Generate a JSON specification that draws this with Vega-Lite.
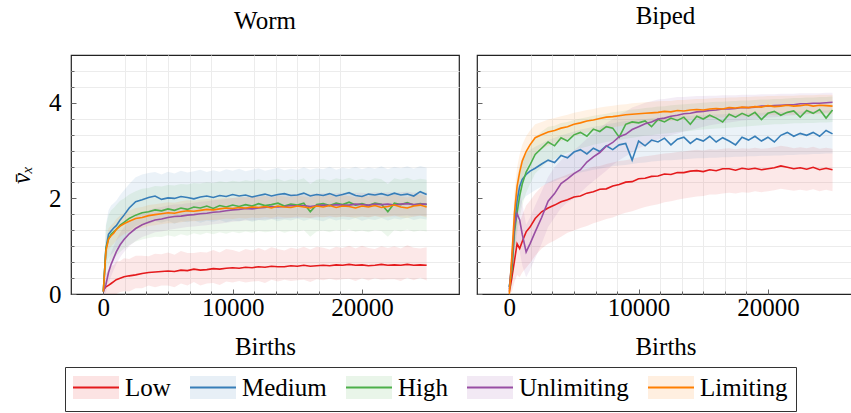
{
"$schema": "https://vega.github.io/schema/vega-lite/v6.json",
"padding": {"left": 8, "top": 3, "right": 0, "bottom": 0},
"spacing": 15,
"config": {
  "font": "Liberation Serif",
  "view": {"stroke": "#222", "strokeWidth": 1.2},
  "axis": {"labelFont": "Liberation Serif", "labelFontSize": 25, "labelColor": "#000", "titleFont": "Liberation Serif", "titleFontSize": 25, "titleFontWeight": "normal", "titleColor": "#000", "domain": false, "tickColor": "#666", "gridWidth": 1, "labelOverlap": false, "labelFlush": false},
  "title": {"font": "Liberation Serif", "fontSize": 25, "fontWeight": "normal", "color": "#000", "anchor": "middle"},
  "legend": {"labelFont": "Liberation Serif", "labelFontSize": 25, "labelColor": "#000"}
},
"datasets": {"d": [
{"p":"W","s":"Low","x":0,"m":0.08,"l":0,"h":0.2},
{"p":"W","s":"Low","x":200,"m":0.15,"l":0,"h":0.42},
{"p":"W","s":"Low","x":400,"m":0.18,"l":0,"h":0.5},
{"p":"W","s":"Low","x":600,"m":0.22,"l":0,"h":0.59},
{"p":"W","s":"Low","x":800,"m":0.26,"l":0,"h":0.6},
{"p":"W","s":"Low","x":1000,"m":0.3,"l":0,"h":0.68},
{"p":"W","s":"Low","x":1300,"m":0.33,"l":0.04,"h":0.69},
{"p":"W","s":"Low","x":1600,"m":0.36,"l":0.06,"h":0.75},
{"p":"W","s":"Low","x":2000,"m":0.38,"l":0.05,"h":0.73},
{"p":"W","s":"Low","x":2500,"m":0.4,"l":0.12,"h":0.8},
{"p":"W","s":"Low","x":3000,"m":0.43,"l":0.12,"h":0.8},
{"p":"W","s":"Low","x":3500,"m":0.45,"l":0.18,"h":0.79},
{"p":"W","s":"Low","x":4000,"m":0.46,"l":0.14,"h":0.84},
{"p":"W","s":"Low","x":4500,"m":0.47,"l":0.18,"h":0.83},
{"p":"W","s":"Low","x":5000,"m":0.48,"l":0.18,"h":0.87},
{"p":"W","s":"Low","x":5500,"m":0.47,"l":0.14,"h":0.82},
{"p":"W","s":"Low","x":6000,"m":0.5,"l":0.22,"h":0.9},
{"p":"W","s":"Low","x":6500,"m":0.49,"l":0.18,"h":0.86},
{"p":"W","s":"Low","x":7000,"m":0.52,"l":0.25,"h":0.86},
{"p":"W","s":"Low","x":7500,"m":0.5,"l":0.18,"h":0.88},
{"p":"W","s":"Low","x":8000,"m":0.51,"l":0.22,"h":0.87},
{"p":"W","s":"Low","x":8500,"m":0.53,"l":0.23,"h":0.92},
{"p":"W","s":"Low","x":9000,"m":0.52,"l":0.19,"h":0.87},
{"p":"W","s":"Low","x":9500,"m":0.54,"l":0.26,"h":0.94},
{"p":"W","s":"Low","x":10000,"m":0.55,"l":0.24,"h":0.92},
{"p":"W","s":"Low","x":10500,"m":0.54,"l":0.27,"h":0.88},
{"p":"W","s":"Low","x":11000,"m":0.56,"l":0.24,"h":0.94},
{"p":"W","s":"Low","x":11500,"m":0.55,"l":0.26,"h":0.91},
{"p":"W","s":"Low","x":12000,"m":0.57,"l":0.27,"h":0.96},
{"p":"W","s":"Low","x":12500,"m":0.56,"l":0.23,"h":0.91},
{"p":"W","s":"Low","x":13000,"m":0.58,"l":0.3,"h":0.98},
{"p":"W","s":"Low","x":13500,"m":0.57,"l":0.26,"h":0.94},
{"p":"W","s":"Low","x":14000,"m":0.57,"l":0.3,"h":0.91},
{"p":"W","s":"Low","x":14500,"m":0.59,"l":0.27,"h":0.97},
{"p":"W","s":"Low","x":15000,"m":0.58,"l":0.29,"h":0.94},
{"p":"W","s":"Low","x":15500,"m":0.6,"l":0.3,"h":0.99},
{"p":"W","s":"Low","x":16000,"m":0.58,"l":0.25,"h":0.93},
{"p":"W","s":"Low","x":16500,"m":0.59,"l":0.31,"h":0.99},
{"p":"W","s":"Low","x":17000,"m":0.6,"l":0.29,"h":0.97},
{"p":"W","s":"Low","x":17500,"m":0.59,"l":0.32,"h":0.93},
{"p":"W","s":"Low","x":18000,"m":0.61,"l":0.29,"h":0.99},
{"p":"W","s":"Low","x":18500,"m":0.6,"l":0.31,"h":0.96},
{"p":"W","s":"Low","x":19000,"m":0.62,"l":0.32,"h":1.01},
{"p":"W","s":"Low","x":19500,"m":0.6,"l":0.27,"h":0.95},
{"p":"W","s":"Low","x":20000,"m":0.61,"l":0.33,"h":1.01},
{"p":"W","s":"Low","x":20500,"m":0.59,"l":0.28,"h":0.96},
{"p":"W","s":"Low","x":21000,"m":0.6,"l":0.33,"h":0.94},
{"p":"W","s":"Low","x":21500,"m":0.62,"l":0.3,"h":1.0},
{"p":"W","s":"Low","x":22000,"m":0.6,"l":0.31,"h":0.96},
{"p":"W","s":"Low","x":22500,"m":0.61,"l":0.31,"h":1.0},
{"p":"W","s":"Low","x":23000,"m":0.6,"l":0.27,"h":0.95},
{"p":"W","s":"Low","x":23500,"m":0.62,"l":0.34,"h":1.02},
{"p":"W","s":"Low","x":24000,"m":0.6,"l":0.29,"h":0.97},
{"p":"W","s":"Low","x":24500,"m":0.61,"l":0.34,"h":0.95},
{"p":"W","s":"Low","x":25000,"m":0.6,"l":0.28,"h":0.98},
{"p":"W","s":"Medium","x":0,"m":0.05,"l":0,"h":0.15},
{"p":"W","s":"Medium","x":200,"m":0.95,"l":0.5,"h":1.45},
{"p":"W","s":"Medium","x":400,"m":1.25,"l":0.75,"h":1.75},
{"p":"W","s":"Medium","x":600,"m":1.32,"l":0.82,"h":1.85},
{"p":"W","s":"Medium","x":800,"m":1.38,"l":0.88,"h":1.9},
{"p":"W","s":"Medium","x":1000,"m":1.43,"l":0.95,"h":1.95},
{"p":"W","s":"Medium","x":1300,"m":1.55,"l":1.05,"h":2.07},
{"p":"W","s":"Medium","x":1600,"m":1.65,"l":1.15,"h":2.17},
{"p":"W","s":"Medium","x":2000,"m":1.8,"l":1.3,"h":2.3},
{"p":"W","s":"Medium","x":2500,"m":1.93,"l":1.42,"h":2.44},
{"p":"W","s":"Medium","x":3000,"m":1.97,"l":1.48,"h":2.5},
{"p":"W","s":"Medium","x":3500,"m":2.02,"l":1.46,"h":2.53},
{"p":"W","s":"Medium","x":4000,"m":2.05,"l":1.52,"h":2.55},
{"p":"W","s":"Medium","x":4500,"m":1.98,"l":1.49,"h":2.5},
{"p":"W","s":"Medium","x":5000,"m":2.01,"l":1.53,"h":2.56},
{"p":"W","s":"Medium","x":5500,"m":2.0,"l":1.47,"h":2.52},
{"p":"W","s":"Medium","x":6000,"m":2.04,"l":1.52,"h":2.58},
{"p":"W","s":"Medium","x":6500,"m":2.02,"l":1.5,"h":2.54},
{"p":"W","s":"Medium","x":7000,"m":1.99,"l":1.54,"h":2.57},
{"p":"W","s":"Medium","x":7500,"m":2.03,"l":1.49,"h":2.6},
{"p":"W","s":"Medium","x":8000,"m":2.05,"l":1.53,"h":2.55},
{"p":"W","s":"Medium","x":8500,"m":2.02,"l":1.51,"h":2.59},
{"p":"W","s":"Medium","x":9000,"m":2.06,"l":1.55,"h":2.56},
{"p":"W","s":"Medium","x":9500,"m":2.04,"l":1.5,"h":2.61},
{"p":"W","s":"Medium","x":10000,"m":2.08,"l":1.54,"h":2.58},
{"p":"W","s":"Medium","x":10500,"m":2.05,"l":1.52,"h":2.62},
{"p":"W","s":"Medium","x":11000,"m":2.07,"l":1.56,"h":2.57},
{"p":"W","s":"Medium","x":11500,"m":2.03,"l":1.51,"h":2.6},
{"p":"W","s":"Medium","x":12000,"m":2.06,"l":1.55,"h":2.63},
{"p":"W","s":"Medium","x":12500,"m":2.09,"l":1.53,"h":2.58},
{"p":"W","s":"Medium","x":13000,"m":2.05,"l":1.57,"h":2.61},
{"p":"W","s":"Medium","x":13500,"m":2.08,"l":1.52,"h":2.64},
{"p":"W","s":"Medium","x":14000,"m":2.1,"l":1.56,"h":2.59},
{"p":"W","s":"Medium","x":14500,"m":2.06,"l":1.54,"h":2.62},
{"p":"W","s":"Medium","x":15000,"m":2.07,"l":1.58,"h":2.6},
{"p":"W","s":"Medium","x":15500,"m":2.11,"l":1.53,"h":2.65},
{"p":"W","s":"Medium","x":16000,"m":2.05,"l":1.57,"h":2.6},
{"p":"W","s":"Medium","x":16500,"m":2.08,"l":1.55,"h":2.63},
{"p":"W","s":"Medium","x":17000,"m":2.06,"l":1.52,"h":2.61},
{"p":"W","s":"Medium","x":17500,"m":2.1,"l":1.58,"h":2.66},
{"p":"W","s":"Medium","x":18000,"m":2.05,"l":1.54,"h":2.6},
{"p":"W","s":"Medium","x":18500,"m":2.08,"l":1.57,"h":2.64},
{"p":"W","s":"Medium","x":19000,"m":2.12,"l":1.55,"h":2.62},
{"p":"W","s":"Medium","x":19500,"m":2.06,"l":1.59,"h":2.66},
{"p":"W","s":"Medium","x":20000,"m":2.04,"l":1.53,"h":2.61},
{"p":"W","s":"Medium","x":20500,"m":2.09,"l":1.57,"h":2.65},
{"p":"W","s":"Medium","x":21000,"m":2.07,"l":1.55,"h":2.62},
{"p":"W","s":"Medium","x":21500,"m":2.1,"l":1.59,"h":2.67},
{"p":"W","s":"Medium","x":22000,"m":2.06,"l":1.54,"h":2.61},
{"p":"W","s":"Medium","x":22500,"m":2.11,"l":1.58,"h":2.66},
{"p":"W","s":"Medium","x":23000,"m":2.07,"l":1.56,"h":2.63},
{"p":"W","s":"Medium","x":23500,"m":2.09,"l":1.6,"h":2.67},
{"p":"W","s":"Medium","x":24000,"m":2.05,"l":1.55,"h":2.62},
{"p":"W","s":"Medium","x":24500,"m":2.14,"l":1.58,"h":2.68},
{"p":"W","s":"Medium","x":25000,"m":2.08,"l":1.56,"h":2.64},
{"p":"W","s":"High","x":0,"m":0.05,"l":0,"h":0.15},
{"p":"W","s":"High","x":200,"m":0.95,"l":0.45,"h":1.42},
{"p":"W","s":"High","x":400,"m":1.15,"l":0.62,"h":1.65},
{"p":"W","s":"High","x":600,"m":1.25,"l":0.7,"h":1.75},
{"p":"W","s":"High","x":800,"m":1.3,"l":0.75,"h":1.8},
{"p":"W","s":"High","x":1000,"m":1.35,"l":0.8,"h":1.86},
{"p":"W","s":"High","x":1300,"m":1.44,"l":0.88,"h":1.95},
{"p":"W","s":"High","x":1600,"m":1.5,"l":0.95,"h":2.0},
{"p":"W","s":"High","x":2000,"m":1.58,"l":1.02,"h":2.08},
{"p":"W","s":"High","x":2500,"m":1.65,"l":1.1,"h":2.15},
{"p":"W","s":"High","x":3000,"m":1.7,"l":1.14,"h":2.2},
{"p":"W","s":"High","x":3500,"m":1.72,"l":1.17,"h":2.22},
{"p":"W","s":"High","x":4000,"m":1.76,"l":1.2,"h":2.26},
{"p":"W","s":"High","x":4500,"m":1.74,"l":1.19,"h":2.25},
{"p":"W","s":"High","x":5000,"m":1.78,"l":1.23,"h":2.28},
{"p":"W","s":"High","x":5500,"m":1.75,"l":1.2,"h":2.27},
{"p":"W","s":"High","x":6000,"m":1.8,"l":1.25,"h":2.3},
{"p":"W","s":"High","x":6500,"m":1.77,"l":1.22,"h":2.29},
{"p":"W","s":"High","x":7000,"m":1.82,"l":1.27,"h":2.32},
{"p":"W","s":"High","x":7500,"m":1.8,"l":1.24,"h":2.31},
{"p":"W","s":"High","x":8000,"m":1.84,"l":1.28,"h":2.34},
{"p":"W","s":"High","x":8500,"m":1.79,"l":1.25,"h":2.32},
{"p":"W","s":"High","x":9000,"m":1.85,"l":1.29,"h":2.36},
{"p":"W","s":"High","x":9500,"m":1.82,"l":1.26,"h":2.34},
{"p":"W","s":"High","x":10000,"m":1.86,"l":1.3,"h":2.37},
{"p":"W","s":"High","x":10500,"m":1.83,"l":1.27,"h":2.35},
{"p":"W","s":"High","x":11000,"m":1.87,"l":1.31,"h":2.38},
{"p":"W","s":"High","x":11500,"m":1.84,"l":1.28,"h":2.36},
{"p":"W","s":"High","x":12000,"m":1.89,"l":1.32,"h":2.4},
{"p":"W","s":"High","x":12500,"m":1.85,"l":1.29,"h":2.37},
{"p":"W","s":"High","x":13000,"m":1.87,"l":1.31,"h":2.39},
{"p":"W","s":"High","x":13500,"m":1.9,"l":1.33,"h":2.41},
{"p":"W","s":"High","x":14000,"m":1.84,"l":1.28,"h":2.36},
{"p":"W","s":"High","x":14500,"m":1.88,"l":1.32,"h":2.4},
{"p":"W","s":"High","x":15000,"m":1.86,"l":1.3,"h":2.38},
{"p":"W","s":"High","x":15500,"m":1.9,"l":1.34,"h":2.42},
{"p":"W","s":"High","x":16000,"m":1.72,"l":1.2,"h":2.3},
{"p":"W","s":"High","x":16500,"m":1.87,"l":1.31,"h":2.39},
{"p":"W","s":"High","x":17000,"m":1.89,"l":1.33,"h":2.41},
{"p":"W","s":"High","x":17500,"m":1.85,"l":1.29,"h":2.37},
{"p":"W","s":"High","x":18000,"m":1.9,"l":1.34,"h":2.42},
{"p":"W","s":"High","x":18500,"m":1.87,"l":1.31,"h":2.39},
{"p":"W","s":"High","x":19000,"m":1.92,"l":1.35,"h":2.43},
{"p":"W","s":"High","x":19500,"m":1.86,"l":1.3,"h":2.38},
{"p":"W","s":"High","x":20000,"m":1.89,"l":1.33,"h":2.41},
{"p":"W","s":"High","x":20500,"m":1.85,"l":1.29,"h":2.37},
{"p":"W","s":"High","x":21000,"m":1.9,"l":1.34,"h":2.42},
{"p":"W","s":"High","x":21500,"m":1.88,"l":1.32,"h":2.4},
{"p":"W","s":"High","x":22000,"m":1.72,"l":1.2,"h":2.3},
{"p":"W","s":"High","x":22500,"m":1.9,"l":1.34,"h":2.42},
{"p":"W","s":"High","x":23000,"m":1.87,"l":1.31,"h":2.39},
{"p":"W","s":"High","x":23500,"m":1.91,"l":1.35,"h":2.43},
{"p":"W","s":"High","x":24000,"m":1.86,"l":1.3,"h":2.38},
{"p":"W","s":"High","x":24500,"m":1.89,"l":1.33,"h":2.41},
{"p":"W","s":"High","x":25000,"m":1.87,"l":1.31,"h":2.39},
{"p":"W","s":"Unlimiting","x":0,"m":0.05,"l":0,"h":0.15},
{"p":"W","s":"Unlimiting","x":200,"m":0.2,"l":0.02,"h":0.4},
{"p":"W","s":"Unlimiting","x":400,"m":0.45,"l":0.22,"h":0.68},
{"p":"W","s":"Unlimiting","x":600,"m":0.62,"l":0.37,"h":0.87},
{"p":"W","s":"Unlimiting","x":800,"m":0.75,"l":0.5,"h":1.0},
{"p":"W","s":"Unlimiting","x":1000,"m":0.88,"l":0.62,"h":1.13},
{"p":"W","s":"Unlimiting","x":1300,"m":1.03,"l":0.77,"h":1.28},
{"p":"W","s":"Unlimiting","x":1600,"m":1.14,"l":0.88,"h":1.4},
{"p":"W","s":"Unlimiting","x":2000,"m":1.26,"l":1.0,"h":1.52},
{"p":"W","s":"Unlimiting","x":2500,"m":1.37,"l":1.11,"h":1.62},
{"p":"W","s":"Unlimiting","x":3000,"m":1.45,"l":1.19,"h":1.7},
{"p":"W","s":"Unlimiting","x":3500,"m":1.5,"l":1.24,"h":1.75},
{"p":"W","s":"Unlimiting","x":4000,"m":1.55,"l":1.29,"h":1.8},
{"p":"W","s":"Unlimiting","x":4500,"m":1.57,"l":1.31,"h":1.82},
{"p":"W","s":"Unlimiting","x":5000,"m":1.6,"l":1.34,"h":1.85},
{"p":"W","s":"Unlimiting","x":5500,"m":1.62,"l":1.36,"h":1.87},
{"p":"W","s":"Unlimiting","x":6000,"m":1.63,"l":1.38,"h":1.88},
{"p":"W","s":"Unlimiting","x":6500,"m":1.65,"l":1.4,"h":1.9},
{"p":"W","s":"Unlimiting","x":7000,"m":1.66,"l":1.41,"h":1.91},
{"p":"W","s":"Unlimiting","x":7500,"m":1.68,"l":1.43,"h":1.93},
{"p":"W","s":"Unlimiting","x":8000,"m":1.69,"l":1.44,"h":1.94},
{"p":"W","s":"Unlimiting","x":8500,"m":1.71,"l":1.46,"h":1.96},
{"p":"W","s":"Unlimiting","x":9000,"m":1.72,"l":1.47,"h":1.97},
{"p":"W","s":"Unlimiting","x":9500,"m":1.74,"l":1.49,"h":1.99},
{"p":"W","s":"Unlimiting","x":10000,"m":1.76,"l":1.51,"h":2.01},
{"p":"W","s":"Unlimiting","x":10500,"m":1.77,"l":1.52,"h":2.02},
{"p":"W","s":"Unlimiting","x":11000,"m":1.79,"l":1.54,"h":2.04},
{"p":"W","s":"Unlimiting","x":11500,"m":1.78,"l":1.54,"h":2.04},
{"p":"W","s":"Unlimiting","x":12000,"m":1.8,"l":1.55,"h":2.05},
{"p":"W","s":"Unlimiting","x":12500,"m":1.81,"l":1.56,"h":2.06},
{"p":"W","s":"Unlimiting","x":13000,"m":1.83,"l":1.57,"h":2.07},
{"p":"W","s":"Unlimiting","x":13500,"m":1.82,"l":1.57,"h":2.07},
{"p":"W","s":"Unlimiting","x":14000,"m":1.83,"l":1.58,"h":2.08},
{"p":"W","s":"Unlimiting","x":14500,"m":1.85,"l":1.59,"h":2.09},
{"p":"W","s":"Unlimiting","x":15000,"m":1.84,"l":1.59,"h":2.09},
{"p":"W","s":"Unlimiting","x":15500,"m":1.85,"l":1.6,"h":2.1},
{"p":"W","s":"Unlimiting","x":16000,"m":1.83,"l":1.59,"h":2.09},
{"p":"W","s":"Unlimiting","x":16500,"m":1.85,"l":1.6,"h":2.1},
{"p":"W","s":"Unlimiting","x":17000,"m":1.86,"l":1.61,"h":2.11},
{"p":"W","s":"Unlimiting","x":17500,"m":1.85,"l":1.6,"h":2.1},
{"p":"W","s":"Unlimiting","x":18000,"m":1.87,"l":1.61,"h":2.11},
{"p":"W","s":"Unlimiting","x":18500,"m":1.86,"l":1.62,"h":2.12},
{"p":"W","s":"Unlimiting","x":19000,"m":1.86,"l":1.61,"h":2.11},
{"p":"W","s":"Unlimiting","x":19500,"m":1.88,"l":1.62,"h":2.12},
{"p":"W","s":"Unlimiting","x":20000,"m":1.87,"l":1.62,"h":2.12},
{"p":"W","s":"Unlimiting","x":20500,"m":1.86,"l":1.61,"h":2.11},
{"p":"W","s":"Unlimiting","x":21000,"m":1.88,"l":1.63,"h":2.13},
{"p":"W","s":"Unlimiting","x":21500,"m":1.87,"l":1.62,"h":2.12},
{"p":"W","s":"Unlimiting","x":22000,"m":1.88,"l":1.63,"h":2.13},
{"p":"W","s":"Unlimiting","x":22500,"m":1.86,"l":1.62,"h":2.12},
{"p":"W","s":"Unlimiting","x":23000,"m":1.88,"l":1.63,"h":2.13},
{"p":"W","s":"Unlimiting","x":23500,"m":1.89,"l":1.64,"h":2.14},
{"p":"W","s":"Unlimiting","x":24000,"m":1.87,"l":1.62,"h":2.12},
{"p":"W","s":"Unlimiting","x":24500,"m":1.88,"l":1.63,"h":2.13},
{"p":"W","s":"Unlimiting","x":25000,"m":1.88,"l":1.63,"h":2.13},
{"p":"W","s":"Limiting","x":0,"m":0.05,"l":0,"h":0.15},
{"p":"W","s":"Limiting","x":200,"m":0.9,"l":0.68,"h":1.12},
{"p":"W","s":"Limiting","x":400,"m":1.15,"l":0.92,"h":1.37},
{"p":"W","s":"Limiting","x":600,"m":1.22,"l":1.0,"h":1.44},
{"p":"W","s":"Limiting","x":800,"m":1.27,"l":1.05,"h":1.49},
{"p":"W","s":"Limiting","x":1000,"m":1.35,"l":1.12,"h":1.57},
{"p":"W","s":"Limiting","x":1300,"m":1.42,"l":1.2,"h":1.64},
{"p":"W","s":"Limiting","x":1600,"m":1.47,"l":1.25,"h":1.69},
{"p":"W","s":"Limiting","x":2000,"m":1.52,"l":1.3,"h":1.74},
{"p":"W","s":"Limiting","x":2500,"m":1.58,"l":1.36,"h":1.8},
{"p":"W","s":"Limiting","x":3000,"m":1.6,"l":1.38,"h":1.82},
{"p":"W","s":"Limiting","x":3500,"m":1.64,"l":1.42,"h":1.86},
{"p":"W","s":"Limiting","x":4000,"m":1.66,"l":1.44,"h":1.88},
{"p":"W","s":"Limiting","x":4500,"m":1.68,"l":1.46,"h":1.9},
{"p":"W","s":"Limiting","x":5000,"m":1.7,"l":1.48,"h":1.92},
{"p":"W","s":"Limiting","x":5500,"m":1.69,"l":1.48,"h":1.91},
{"p":"W","s":"Limiting","x":6000,"m":1.72,"l":1.5,"h":1.94},
{"p":"W","s":"Limiting","x":6500,"m":1.74,"l":1.52,"h":1.96},
{"p":"W","s":"Limiting","x":7000,"m":1.73,"l":1.52,"h":1.95},
{"p":"W","s":"Limiting","x":7500,"m":1.75,"l":1.53,"h":1.97},
{"p":"W","s":"Limiting","x":8000,"m":1.77,"l":1.55,"h":1.99},
{"p":"W","s":"Limiting","x":8500,"m":1.76,"l":1.55,"h":1.98},
{"p":"W","s":"Limiting","x":9000,"m":1.78,"l":1.56,"h":2.0},
{"p":"W","s":"Limiting","x":9500,"m":1.8,"l":1.58,"h":2.02},
{"p":"W","s":"Limiting","x":10000,"m":1.79,"l":1.57,"h":2.01},
{"p":"W","s":"Limiting","x":10500,"m":1.81,"l":1.59,"h":2.03},
{"p":"W","s":"Limiting","x":11000,"m":1.8,"l":1.58,"h":2.02},
{"p":"W","s":"Limiting","x":11500,"m":1.82,"l":1.6,"h":2.04},
{"p":"W","s":"Limiting","x":12000,"m":1.81,"l":1.59,"h":2.03},
{"p":"W","s":"Limiting","x":12500,"m":1.83,"l":1.61,"h":2.05},
{"p":"W","s":"Limiting","x":13000,"m":1.8,"l":1.59,"h":2.02},
{"p":"W","s":"Limiting","x":13500,"m":1.84,"l":1.62,"h":2.06},
{"p":"W","s":"Limiting","x":14000,"m":1.82,"l":1.6,"h":2.04},
{"p":"W","s":"Limiting","x":14500,"m":1.81,"l":1.6,"h":2.03},
{"p":"W","s":"Limiting","x":15000,"m":1.84,"l":1.62,"h":2.06},
{"p":"W","s":"Limiting","x":15500,"m":1.82,"l":1.6,"h":2.04},
{"p":"W","s":"Limiting","x":16000,"m":1.8,"l":1.59,"h":2.02},
{"p":"W","s":"Limiting","x":16500,"m":1.84,"l":1.62,"h":2.06},
{"p":"W","s":"Limiting","x":17000,"m":1.82,"l":1.6,"h":2.04},
{"p":"W","s":"Limiting","x":17500,"m":1.85,"l":1.63,"h":2.07},
{"p":"W","s":"Limiting","x":18000,"m":1.81,"l":1.6,"h":2.03},
{"p":"W","s":"Limiting","x":18500,"m":1.84,"l":1.62,"h":2.06},
{"p":"W","s":"Limiting","x":19000,"m":1.83,"l":1.61,"h":2.05},
{"p":"W","s":"Limiting","x":19500,"m":1.8,"l":1.59,"h":2.02},
{"p":"W","s":"Limiting","x":20000,"m":1.84,"l":1.62,"h":2.06},
{"p":"W","s":"Limiting","x":20500,"m":1.82,"l":1.6,"h":2.04},
{"p":"W","s":"Limiting","x":21000,"m":1.85,"l":1.63,"h":2.07},
{"p":"W","s":"Limiting","x":21500,"m":1.81,"l":1.6,"h":2.03},
{"p":"W","s":"Limiting","x":22000,"m":1.83,"l":1.61,"h":2.05},
{"p":"W","s":"Limiting","x":22500,"m":1.86,"l":1.64,"h":2.08},
{"p":"W","s":"Limiting","x":23000,"m":1.82,"l":1.6,"h":2.04},
{"p":"W","s":"Limiting","x":23500,"m":1.8,"l":1.59,"h":2.02},
{"p":"W","s":"Limiting","x":24000,"m":1.84,"l":1.62,"h":2.06},
{"p":"W","s":"Limiting","x":24500,"m":1.86,"l":1.64,"h":2.08},
{"p":"W","s":"Limiting","x":25000,"m":1.82,"l":1.6,"h":2.04},
{"p":"B","s":"Low","x":0,"m":0.05,"l":0,"h":0.2},
{"p":"B","s":"Low","x":200,"m":0.35,"l":0.05,"h":0.75},
{"p":"B","s":"Low","x":400,"m":0.7,"l":0.25,"h":1.2},
{"p":"B","s":"Low","x":600,"m":1.05,"l":0.4,"h":1.55},
{"p":"B","s":"Low","x":800,"m":0.95,"l":0.35,"h":1.5},
{"p":"B","s":"Low","x":1000,"m":1.1,"l":0.45,"h":1.65},
{"p":"B","s":"Low","x":1300,"m":1.3,"l":0.55,"h":1.85},
{"p":"B","s":"Low","x":1600,"m":1.4,"l":0.65,"h":1.95},
{"p":"B","s":"Low","x":2000,"m":1.58,"l":0.8,"h":2.1},
{"p":"B","s":"Low","x":2500,"m":1.72,"l":0.95,"h":2.25},
{"p":"B","s":"Low","x":3000,"m":1.8,"l":1.05,"h":2.33},
{"p":"B","s":"Low","x":3500,"m":1.86,"l":1.12,"h":2.4},
{"p":"B","s":"Low","x":4000,"m":1.93,"l":1.2,"h":2.45},
{"p":"B","s":"Low","x":4500,"m":1.97,"l":1.28,"h":2.5},
{"p":"B","s":"Low","x":5000,"m":2.03,"l":1.33,"h":2.55},
{"p":"B","s":"Low","x":5500,"m":2.05,"l":1.38,"h":2.58},
{"p":"B","s":"Low","x":6000,"m":2.11,"l":1.42,"h":2.62},
{"p":"B","s":"Low","x":6500,"m":2.14,"l":1.48,"h":2.66},
{"p":"B","s":"Low","x":7000,"m":2.19,"l":1.52,"h":2.68},
{"p":"B","s":"Low","x":7500,"m":2.2,"l":1.57,"h":2.72},
{"p":"B","s":"Low","x":8000,"m":2.26,"l":1.6,"h":2.75},
{"p":"B","s":"Low","x":8500,"m":2.29,"l":1.66,"h":2.78},
{"p":"B","s":"Low","x":9000,"m":2.34,"l":1.7,"h":2.8},
{"p":"B","s":"Low","x":9500,"m":2.35,"l":1.73,"h":2.83},
{"p":"B","s":"Low","x":10000,"m":2.41,"l":1.78,"h":2.86},
{"p":"B","s":"Low","x":10500,"m":2.42,"l":1.82,"h":2.88},
{"p":"B","s":"Low","x":11000,"m":2.46,"l":1.85,"h":2.9},
{"p":"B","s":"Low","x":11500,"m":2.47,"l":1.88,"h":2.92},
{"p":"B","s":"Low","x":12000,"m":2.51,"l":1.92,"h":2.94},
{"p":"B","s":"Low","x":12500,"m":2.5,"l":1.94,"h":2.95},
{"p":"B","s":"Low","x":13000,"m":2.54,"l":1.97,"h":2.97},
{"p":"B","s":"Low","x":13500,"m":2.54,"l":2.0,"h":2.98},
{"p":"B","s":"Low","x":14000,"m":2.57,"l":2.02,"h":3.0},
{"p":"B","s":"Low","x":14500,"m":2.58,"l":2.04,"h":3.02},
{"p":"B","s":"Low","x":15000,"m":2.56,"l":2.05,"h":3.0},
{"p":"B","s":"Low","x":15500,"m":2.6,"l":2.08,"h":3.03},
{"p":"B","s":"Low","x":16000,"m":2.58,"l":2.08,"h":3.02},
{"p":"B","s":"Low","x":16500,"m":2.62,"l":2.1,"h":3.04},
{"p":"B","s":"Low","x":17000,"m":2.62,"l":2.12,"h":3.05},
{"p":"B","s":"Low","x":17500,"m":2.59,"l":2.1,"h":3.03},
{"p":"B","s":"Low","x":18000,"m":2.63,"l":2.13,"h":3.05},
{"p":"B","s":"Low","x":18500,"m":2.61,"l":2.12,"h":3.04},
{"p":"B","s":"Low","x":19000,"m":2.63,"l":2.15,"h":3.06},
{"p":"B","s":"Low","x":19500,"m":2.6,"l":2.13,"h":3.04},
{"p":"B","s":"Low","x":20000,"m":2.62,"l":2.15,"h":3.05},
{"p":"B","s":"Low","x":20500,"m":2.64,"l":2.17,"h":3.07},
{"p":"B","s":"Low","x":21000,"m":2.68,"l":2.2,"h":3.1},
{"p":"B","s":"Low","x":21500,"m":2.65,"l":2.18,"h":3.08},
{"p":"B","s":"Low","x":22000,"m":2.62,"l":2.16,"h":3.05},
{"p":"B","s":"Low","x":22500,"m":2.64,"l":2.18,"h":3.07},
{"p":"B","s":"Low","x":23000,"m":2.61,"l":2.16,"h":3.05},
{"p":"B","s":"Low","x":23500,"m":2.65,"l":2.19,"h":3.08},
{"p":"B","s":"Low","x":24000,"m":2.6,"l":2.15,"h":3.04},
{"p":"B","s":"Low","x":24500,"m":2.63,"l":2.18,"h":3.06},
{"p":"B","s":"Low","x":25000,"m":2.6,"l":2.15,"h":3.04},
{"p":"B","s":"Medium","x":0,"m":0.15,"l":0,"h":0.3},
{"p":"B","s":"Medium","x":200,"m":0.6,"l":0.2,"h":1.0},
{"p":"B","s":"Medium","x":400,"m":1.4,"l":0.9,"h":1.9},
{"p":"B","s":"Medium","x":600,"m":1.95,"l":1.45,"h":2.45},
{"p":"B","s":"Medium","x":800,"m":2.25,"l":1.75,"h":2.7},
{"p":"B","s":"Medium","x":1000,"m":2.4,"l":1.95,"h":2.85},
{"p":"B","s":"Medium","x":1300,"m":2.5,"l":2.05,"h":2.95},
{"p":"B","s":"Medium","x":1600,"m":2.57,"l":2.1,"h":3.02},
{"p":"B","s":"Medium","x":2000,"m":2.63,"l":2.17,"h":3.08},
{"p":"B","s":"Medium","x":2500,"m":2.72,"l":2.25,"h":3.15},
{"p":"B","s":"Medium","x":3000,"m":2.8,"l":2.32,"h":3.22},
{"p":"B","s":"Medium","x":3500,"m":2.75,"l":2.36,"h":3.27},
{"p":"B","s":"Medium","x":4000,"m":2.9,"l":2.42,"h":3.32},
{"p":"B","s":"Medium","x":4500,"m":2.85,"l":2.45,"h":3.36},
{"p":"B","s":"Medium","x":5000,"m":2.97,"l":2.5,"h":3.4},
{"p":"B","s":"Medium","x":5500,"m":3.02,"l":2.54,"h":3.44},
{"p":"B","s":"Medium","x":6000,"m":2.93,"l":2.57,"h":3.47},
{"p":"B","s":"Medium","x":6500,"m":3.05,"l":2.6,"h":3.5},
{"p":"B","s":"Medium","x":7000,"m":2.98,"l":2.62,"h":3.52},
{"p":"B","s":"Medium","x":7500,"m":3.1,"l":2.65,"h":3.55},
{"p":"B","s":"Medium","x":8000,"m":3.02,"l":2.67,"h":3.57},
{"p":"B","s":"Medium","x":8500,"m":3.12,"l":2.69,"h":3.6},
{"p":"B","s":"Medium","x":9000,"m":3.15,"l":2.7,"h":3.62},
{"p":"B","s":"Medium","x":9500,"m":2.8,"l":2.72,"h":3.63},
{"p":"B","s":"Medium","x":10000,"m":3.2,"l":2.74,"h":3.65},
{"p":"B","s":"Medium","x":10500,"m":3.1,"l":2.75,"h":3.66},
{"p":"B","s":"Medium","x":11000,"m":3.22,"l":2.77,"h":3.68},
{"p":"B","s":"Medium","x":11500,"m":3.18,"l":2.78,"h":3.69},
{"p":"B","s":"Medium","x":12000,"m":3.26,"l":2.8,"h":3.7},
{"p":"B","s":"Medium","x":12500,"m":3.12,"l":2.8,"h":3.71},
{"p":"B","s":"Medium","x":13000,"m":3.24,"l":2.81,"h":3.72},
{"p":"B","s":"Medium","x":13500,"m":3.28,"l":2.82,"h":3.73},
{"p":"B","s":"Medium","x":14000,"m":3.15,"l":2.83,"h":3.73},
{"p":"B","s":"Medium","x":14500,"m":3.25,"l":2.84,"h":3.74},
{"p":"B","s":"Medium","x":15000,"m":3.2,"l":2.84,"h":3.75},
{"p":"B","s":"Medium","x":15500,"m":3.3,"l":2.85,"h":3.75},
{"p":"B","s":"Medium","x":16000,"m":3.18,"l":2.85,"h":3.76},
{"p":"B","s":"Medium","x":16500,"m":3.27,"l":2.86,"h":3.76},
{"p":"B","s":"Medium","x":17000,"m":3.2,"l":2.86,"h":3.77},
{"p":"B","s":"Medium","x":17500,"m":3.12,"l":2.87,"h":3.77},
{"p":"B","s":"Medium","x":18000,"m":3.28,"l":2.87,"h":3.78},
{"p":"B","s":"Medium","x":18500,"m":3.22,"l":2.88,"h":3.78},
{"p":"B","s":"Medium","x":19000,"m":3.3,"l":2.88,"h":3.79},
{"p":"B","s":"Medium","x":19500,"m":3.2,"l":2.89,"h":3.79},
{"p":"B","s":"Medium","x":20000,"m":3.28,"l":2.89,"h":3.8},
{"p":"B","s":"Medium","x":20500,"m":3.18,"l":2.9,"h":3.8},
{"p":"B","s":"Medium","x":21000,"m":3.32,"l":2.9,"h":3.81},
{"p":"B","s":"Medium","x":21500,"m":3.38,"l":2.91,"h":3.81},
{"p":"B","s":"Medium","x":22000,"m":3.3,"l":2.91,"h":3.82},
{"p":"B","s":"Medium","x":22500,"m":3.36,"l":2.92,"h":3.82},
{"p":"B","s":"Medium","x":23000,"m":3.32,"l":2.92,"h":3.83},
{"p":"B","s":"Medium","x":23500,"m":3.38,"l":2.93,"h":3.83},
{"p":"B","s":"Medium","x":24000,"m":3.3,"l":2.93,"h":3.84},
{"p":"B","s":"Medium","x":24500,"m":3.42,"l":2.94,"h":3.84},
{"p":"B","s":"Medium","x":25000,"m":3.35,"l":2.94,"h":3.85},
{"p":"B","s":"High","x":0,"m":0.15,"l":0,"h":0.3},
{"p":"B","s":"High","x":200,"m":0.5,"l":0.15,"h":0.9},
{"p":"B","s":"High","x":400,"m":1.3,"l":0.85,"h":1.75},
{"p":"B","s":"High","x":600,"m":1.7,"l":1.25,"h":2.15},
{"p":"B","s":"High","x":800,"m":2.05,"l":1.6,"h":2.5},
{"p":"B","s":"High","x":1000,"m":2.3,"l":1.85,"h":2.72},
{"p":"B","s":"High","x":1300,"m":2.55,"l":2.12,"h":2.95},
{"p":"B","s":"High","x":1600,"m":2.7,"l":2.3,"h":3.08},
{"p":"B","s":"High","x":2000,"m":2.92,"l":2.52,"h":3.28},
{"p":"B","s":"High","x":2500,"m":3.05,"l":2.65,"h":3.4},
{"p":"B","s":"High","x":3000,"m":3.18,"l":2.78,"h":3.5},
{"p":"B","s":"High","x":3500,"m":3.1,"l":2.82,"h":3.52},
{"p":"B","s":"High","x":4000,"m":3.27,"l":2.9,"h":3.58},
{"p":"B","s":"High","x":4500,"m":3.2,"l":2.95,"h":3.6},
{"p":"B","s":"High","x":5000,"m":3.33,"l":3.0,"h":3.64},
{"p":"B","s":"High","x":5500,"m":3.38,"l":3.05,"h":3.67},
{"p":"B","s":"High","x":6000,"m":3.3,"l":3.08,"h":3.7},
{"p":"B","s":"High","x":6500,"m":3.45,"l":3.12,"h":3.73},
{"p":"B","s":"High","x":7000,"m":3.4,"l":3.15,"h":3.75},
{"p":"B","s":"High","x":7500,"m":3.5,"l":3.18,"h":3.77},
{"p":"B","s":"High","x":8000,"m":3.47,"l":3.2,"h":3.8},
{"p":"B","s":"High","x":8500,"m":3.28,"l":3.22,"h":3.82},
{"p":"B","s":"High","x":9000,"m":3.55,"l":3.25,"h":3.84},
{"p":"B","s":"High","x":9500,"m":3.6,"l":3.27,"h":3.86},
{"p":"B","s":"High","x":10000,"m":3.58,"l":3.29,"h":3.87},
{"p":"B","s":"High","x":10500,"m":3.62,"l":3.31,"h":3.89},
{"p":"B","s":"High","x":11000,"m":3.5,"l":3.32,"h":3.9},
{"p":"B","s":"High","x":11500,"m":3.65,"l":3.34,"h":3.92},
{"p":"B","s":"High","x":12000,"m":3.6,"l":3.36,"h":3.93},
{"p":"B","s":"High","x":12500,"m":3.68,"l":3.37,"h":3.95},
{"p":"B","s":"High","x":13000,"m":3.63,"l":3.39,"h":3.96},
{"p":"B","s":"High","x":13500,"m":3.7,"l":3.4,"h":3.97},
{"p":"B","s":"High","x":14000,"m":3.55,"l":3.41,"h":3.98},
{"p":"B","s":"High","x":14500,"m":3.72,"l":3.43,"h":3.99},
{"p":"B","s":"High","x":15000,"m":3.66,"l":3.44,"h":4.0},
{"p":"B","s":"High","x":15500,"m":3.74,"l":3.45,"h":4.01},
{"p":"B","s":"High","x":16000,"m":3.68,"l":3.46,"h":4.02},
{"p":"B","s":"High","x":16500,"m":3.6,"l":3.47,"h":4.02},
{"p":"B","s":"High","x":17000,"m":3.76,"l":3.48,"h":4.03},
{"p":"B","s":"High","x":17500,"m":3.7,"l":3.49,"h":4.04},
{"p":"B","s":"High","x":18000,"m":3.78,"l":3.5,"h":4.05},
{"p":"B","s":"High","x":18500,"m":3.72,"l":3.51,"h":4.05},
{"p":"B","s":"High","x":19000,"m":3.8,"l":3.52,"h":4.06},
{"p":"B","s":"High","x":19500,"m":3.65,"l":3.53,"h":4.07},
{"p":"B","s":"High","x":20000,"m":3.78,"l":3.54,"h":4.07},
{"p":"B","s":"High","x":20500,"m":3.82,"l":3.55,"h":4.08},
{"p":"B","s":"High","x":21000,"m":3.74,"l":3.55,"h":4.08},
{"p":"B","s":"High","x":21500,"m":3.8,"l":3.56,"h":4.09},
{"p":"B","s":"High","x":22000,"m":3.83,"l":3.57,"h":4.1},
{"p":"B","s":"High","x":22500,"m":3.7,"l":3.57,"h":4.1},
{"p":"B","s":"High","x":23000,"m":3.84,"l":3.58,"h":4.11},
{"p":"B","s":"High","x":23500,"m":3.78,"l":3.58,"h":4.11},
{"p":"B","s":"High","x":24000,"m":3.86,"l":3.59,"h":4.12},
{"p":"B","s":"High","x":24500,"m":3.68,"l":3.59,"h":4.12},
{"p":"B","s":"High","x":25000,"m":3.85,"l":3.6,"h":4.13},
{"p":"B","s":"Unlimiting","x":0,"m":0.1,"l":0,"h":0.25},
{"p":"B","s":"Unlimiting","x":200,"m":0.7,"l":0.3,"h":1.1},
{"p":"B","s":"Unlimiting","x":400,"m":1.45,"l":0.9,"h":1.95},
{"p":"B","s":"Unlimiting","x":600,"m":1.68,"l":1.1,"h":2.25},
{"p":"B","s":"Unlimiting","x":800,"m":1.55,"l":0.9,"h":2.2},
{"p":"B","s":"Unlimiting","x":1000,"m":1.25,"l":0.6,"h":1.9},
{"p":"B","s":"Unlimiting","x":1300,"m":0.88,"l":0.35,"h":1.45},
{"p":"B","s":"Unlimiting","x":1600,"m":1.05,"l":0.5,"h":1.6},
{"p":"B","s":"Unlimiting","x":2000,"m":1.3,"l":0.75,"h":1.85},
{"p":"B","s":"Unlimiting","x":2500,"m":1.6,"l":1.05,"h":2.15},
{"p":"B","s":"Unlimiting","x":3000,"m":1.94,"l":1.4,"h":2.45},
{"p":"B","s":"Unlimiting","x":3500,"m":2.1,"l":1.6,"h":2.65},
{"p":"B","s":"Unlimiting","x":4000,"m":2.31,"l":1.8,"h":2.8},
{"p":"B","s":"Unlimiting","x":4500,"m":2.41,"l":1.92,"h":2.92},
{"p":"B","s":"Unlimiting","x":5000,"m":2.52,"l":2.0,"h":3.0},
{"p":"B","s":"Unlimiting","x":5500,"m":2.6,"l":2.12,"h":3.12},
{"p":"B","s":"Unlimiting","x":6000,"m":2.76,"l":2.25,"h":3.25},
{"p":"B","s":"Unlimiting","x":6500,"m":2.87,"l":2.36,"h":3.36},
{"p":"B","s":"Unlimiting","x":7000,"m":2.96,"l":2.47,"h":3.47},
{"p":"B","s":"Unlimiting","x":7500,"m":3.09,"l":2.58,"h":3.58},
{"p":"B","s":"Unlimiting","x":8000,"m":3.17,"l":2.7,"h":3.66},
{"p":"B","s":"Unlimiting","x":8500,"m":3.29,"l":2.8,"h":3.76},
{"p":"B","s":"Unlimiting","x":9000,"m":3.34,"l":2.88,"h":3.82},
{"p":"B","s":"Unlimiting","x":9500,"m":3.44,"l":2.96,"h":3.9},
{"p":"B","s":"Unlimiting","x":10000,"m":3.5,"l":3.05,"h":3.95},
{"p":"B","s":"Unlimiting","x":10500,"m":3.56,"l":3.1,"h":4.0},
{"p":"B","s":"Unlimiting","x":11000,"m":3.6,"l":3.17,"h":4.03},
{"p":"B","s":"Unlimiting","x":11500,"m":3.66,"l":3.23,"h":4.07},
{"p":"B","s":"Unlimiting","x":12000,"m":3.68,"l":3.28,"h":4.08},
{"p":"B","s":"Unlimiting","x":12500,"m":3.72,"l":3.32,"h":4.1},
{"p":"B","s":"Unlimiting","x":13000,"m":3.74,"l":3.36,"h":4.12},
{"p":"B","s":"Unlimiting","x":13500,"m":3.77,"l":3.4,"h":4.12},
{"p":"B","s":"Unlimiting","x":14000,"m":3.78,"l":3.43,"h":4.13},
{"p":"B","s":"Unlimiting","x":14500,"m":3.81,"l":3.46,"h":4.14},
{"p":"B","s":"Unlimiting","x":15000,"m":3.82,"l":3.5,"h":4.14},
{"p":"B","s":"Unlimiting","x":15500,"m":3.84,"l":3.53,"h":4.15},
{"p":"B","s":"Unlimiting","x":16000,"m":3.85,"l":3.55,"h":4.15},
{"p":"B","s":"Unlimiting","x":16500,"m":3.87,"l":3.57,"h":4.16},
{"p":"B","s":"Unlimiting","x":17000,"m":3.87,"l":3.59,"h":4.16},
{"p":"B","s":"Unlimiting","x":17500,"m":3.88,"l":3.61,"h":4.16},
{"p":"B","s":"Unlimiting","x":18000,"m":3.9,"l":3.63,"h":4.17},
{"p":"B","s":"Unlimiting","x":18500,"m":3.9,"l":3.64,"h":4.17},
{"p":"B","s":"Unlimiting","x":19000,"m":3.91,"l":3.66,"h":4.17},
{"p":"B","s":"Unlimiting","x":19500,"m":3.93,"l":3.67,"h":4.18},
{"p":"B","s":"Unlimiting","x":20000,"m":3.93,"l":3.69,"h":4.18},
{"p":"B","s":"Unlimiting","x":20500,"m":3.94,"l":3.7,"h":4.18},
{"p":"B","s":"Unlimiting","x":21000,"m":3.95,"l":3.71,"h":4.19},
{"p":"B","s":"Unlimiting","x":21500,"m":3.96,"l":3.73,"h":4.19},
{"p":"B","s":"Unlimiting","x":22000,"m":3.96,"l":3.74,"h":4.19},
{"p":"B","s":"Unlimiting","x":22500,"m":3.98,"l":3.75,"h":4.2},
{"p":"B","s":"Unlimiting","x":23000,"m":3.98,"l":3.76,"h":4.2},
{"p":"B","s":"Unlimiting","x":23500,"m":3.99,"l":3.77,"h":4.2},
{"p":"B","s":"Unlimiting","x":24000,"m":3.99,"l":3.78,"h":4.2},
{"p":"B","s":"Unlimiting","x":24500,"m":4.0,"l":3.79,"h":4.21},
{"p":"B","s":"Unlimiting","x":25000,"m":4.01,"l":3.8,"h":4.21},
{"p":"B","s":"Limiting","x":0,"m":0.0,"l":0,"h":0.15},
{"p":"B","s":"Limiting","x":200,"m":0.8,"l":0.4,"h":1.2},
{"p":"B","s":"Limiting","x":400,"m":1.7,"l":1.25,"h":2.15},
{"p":"B","s":"Limiting","x":600,"m":2.25,"l":1.85,"h":2.65},
{"p":"B","s":"Limiting","x":800,"m":2.55,"l":2.15,"h":2.92},
{"p":"B","s":"Limiting","x":1000,"m":2.78,"l":2.4,"h":3.12},
{"p":"B","s":"Limiting","x":1300,"m":2.98,"l":2.62,"h":3.3},
{"p":"B","s":"Limiting","x":1600,"m":3.12,"l":2.78,"h":3.42},
{"p":"B","s":"Limiting","x":2000,"m":3.27,"l":2.95,"h":3.55},
{"p":"B","s":"Limiting","x":2500,"m":3.33,"l":3.03,"h":3.6},
{"p":"B","s":"Limiting","x":3000,"m":3.39,"l":3.1,"h":3.65},
{"p":"B","s":"Limiting","x":3500,"m":3.42,"l":3.15,"h":3.68},
{"p":"B","s":"Limiting","x":4000,"m":3.47,"l":3.2,"h":3.72},
{"p":"B","s":"Limiting","x":4500,"m":3.5,"l":3.25,"h":3.75},
{"p":"B","s":"Limiting","x":5000,"m":3.55,"l":3.3,"h":3.79},
{"p":"B","s":"Limiting","x":5500,"m":3.58,"l":3.34,"h":3.82},
{"p":"B","s":"Limiting","x":6000,"m":3.62,"l":3.38,"h":3.85},
{"p":"B","s":"Limiting","x":6500,"m":3.64,"l":3.41,"h":3.87},
{"p":"B","s":"Limiting","x":7000,"m":3.67,"l":3.44,"h":3.9},
{"p":"B","s":"Limiting","x":7500,"m":3.7,"l":3.47,"h":3.92},
{"p":"B","s":"Limiting","x":8000,"m":3.71,"l":3.49,"h":3.94},
{"p":"B","s":"Limiting","x":8500,"m":3.73,"l":3.51,"h":3.96},
{"p":"B","s":"Limiting","x":9000,"m":3.75,"l":3.53,"h":3.97},
{"p":"B","s":"Limiting","x":9500,"m":3.76,"l":3.55,"h":3.99},
{"p":"B","s":"Limiting","x":10000,"m":3.77,"l":3.56,"h":4.0},
{"p":"B","s":"Limiting","x":10500,"m":3.78,"l":3.58,"h":4.01},
{"p":"B","s":"Limiting","x":11000,"m":3.79,"l":3.59,"h":4.02},
{"p":"B","s":"Limiting","x":11500,"m":3.8,"l":3.6,"h":4.03},
{"p":"B","s":"Limiting","x":12000,"m":3.82,"l":3.62,"h":4.04},
{"p":"B","s":"Limiting","x":12500,"m":3.81,"l":3.62,"h":4.04},
{"p":"B","s":"Limiting","x":13000,"m":3.84,"l":3.64,"h":4.06},
{"p":"B","s":"Limiting","x":13500,"m":3.83,"l":3.64,"h":4.06},
{"p":"B","s":"Limiting","x":14000,"m":3.85,"l":3.66,"h":4.07},
{"p":"B","s":"Limiting","x":14500,"m":3.86,"l":3.67,"h":4.08},
{"p":"B","s":"Limiting","x":15000,"m":3.85,"l":3.67,"h":4.08},
{"p":"B","s":"Limiting","x":15500,"m":3.87,"l":3.68,"h":4.09},
{"p":"B","s":"Limiting","x":16000,"m":3.88,"l":3.69,"h":4.1},
{"p":"B","s":"Limiting","x":16500,"m":3.87,"l":3.69,"h":4.1},
{"p":"B","s":"Limiting","x":17000,"m":3.9,"l":3.71,"h":4.11},
{"p":"B","s":"Limiting","x":17500,"m":3.89,"l":3.71,"h":4.11},
{"p":"B","s":"Limiting","x":18000,"m":3.91,"l":3.72,"h":4.12},
{"p":"B","s":"Limiting","x":18500,"m":3.9,"l":3.72,"h":4.12},
{"p":"B","s":"Limiting","x":19000,"m":3.92,"l":3.73,"h":4.13},
{"p":"B","s":"Limiting","x":19500,"m":3.91,"l":3.73,"h":4.13},
{"p":"B","s":"Limiting","x":20000,"m":3.94,"l":3.75,"h":4.14},
{"p":"B","s":"Limiting","x":20500,"m":3.92,"l":3.74,"h":4.14},
{"p":"B","s":"Limiting","x":21000,"m":3.93,"l":3.75,"h":4.15},
{"p":"B","s":"Limiting","x":21500,"m":3.95,"l":3.76,"h":4.15},
{"p":"B","s":"Limiting","x":22000,"m":3.93,"l":3.75,"h":4.15},
{"p":"B","s":"Limiting","x":22500,"m":3.94,"l":3.76,"h":4.16},
{"p":"B","s":"Limiting","x":23000,"m":3.96,"l":3.77,"h":4.16},
{"p":"B","s":"Limiting","x":23500,"m":3.93,"l":3.76,"h":4.16},
{"p":"B","s":"Limiting","x":24000,"m":3.95,"l":3.77,"h":4.17},
{"p":"B","s":"Limiting","x":24500,"m":3.94,"l":3.77,"h":4.17},
{"p":"B","s":"Limiting","x":25000,"m":3.93,"l":3.76,"h":4.17}
]},
"hconcat": [
{
 "width": 388, "height": 239,
 "title": {"text": "Worm", "offset": 1, "baseline": "alphabetic"},
 "data": {"name": "d"},
 "transform": [{"filter": "datum.p === 'W'"}],
 "layer": [
  {"mark": {"type": "area", "fillOpacity": 0.1, "strokeWidth": 0},
   "encoding": {
    "x": {"field": "x", "type": "quantitative", "scale": {"domain": [-2500, 27500], "nice": false, "zero": false},
          "axis": {"orient": "bottom", "values": [1666.67, 3333.33, 5000, 6666.67, 8333.33, 11666.67, 13333.33, 15000, 16666.67, 18333.33], "labels": false, "title": null, "gridColor": "#ececec", "tickSize": -3}},
    "y": {"field": "l", "type": "quantitative", "scale": {"domain": [0, 5], "nice": false},
          "axis": {"orient": "left", "values": [0.3333, 0.6667, 1, 1.3333, 1.6667, 2.3333, 2.6667, 3, 3.3333, 3.6667, 4.3333, 4.6667], "labels": false, "title": null, "gridColor": "#ececec", "tickSize": -3}},
    "y2": {"field": "h"},
    "fill": {"field": "s", "type": "nominal", "scale": {"domain": ["Low", "Medium", "High", "Unlimiting", "Limiting"], "range": ["#e41a1c", "#377eb8", "#4daf4a", "#984ea3", "#ff7f00"]},
             "legend": {"orient": "none", "legendX": -6, "legendY": 312, "direction": "horizontal", "title": null, "symbolType": "M-2,0H2V1H-2V-1H2V0Z", "symbolSize": 529, "symbolOffset": 10.5, "symbolOpacity": 1, "symbolStrokeWidth": 2, "symbolDash": [46, 1000], "labelOffset": 16.5, "columnPadding": 15, "padding": 8, "strokeColor": "#333", "labelFontSize": 25,
                        "encode": {"symbols": {"update": {"fillOpacity": {"value": 0.12}, "strokeOpacity": {"value": 1}, "stroke": {"scale": "fill", "field": "value"}}}}}}
   }},
  {"mark": {"type": "line", "strokeWidth": 1.6},
   "encoding": {
    "x": {"field": "x", "type": "quantitative", "axis": {"orient": "bottom", "values": [0, 10000, 20000], "format": "d", "title": "Births", "gridColor": "#bdbdbd", "tickSize": -5, "labelPadding": 6, "titlePadding": 14}},
    "y": {"field": "m", "type": "quantitative", "axis": {"orient": "left", "values": [0, 2, 4], "title": "v\u0304\u2093", "titleFontStyle": "italic", "gridColor": "#bdbdbd", "tickSize": -5, "labelPadding": 15, "titlePadding": 14}},
    "stroke": {"field": "s", "type": "nominal", "sort": ["Low", "Medium", "High", "Unlimiting", "Limiting"], "scale": {"range": ["#e41a1c", "#377eb8", "#4daf4a", "#984ea3", "#ff7f00"]}, "legend": null}
   }}
 ],
 "resolve": {"axis": {"x": "independent", "y": "independent"}}
},
{
 "width": 377, "height": 239,
 "title": {"text": "Biped", "offset": 6, "baseline": "alphabetic"},
 "data": {"name": "d"},
 "transform": [{"filter": "datum.p === 'B'"}],
 "layer": [
  {"mark": {"type": "area", "fillOpacity": 0.1, "strokeWidth": 0},
   "encoding": {
    "x": {"field": "x", "type": "quantitative", "scale": {"domain": [-2500, 26660], "nice": false, "zero": false},
          "axis": {"orient": "bottom", "values": [1666.67, 3333.33, 5000, 6666.67, 8333.33, 11666.67, 13333.33, 15000, 16666.67, 18333.33], "labels": false, "title": null, "gridColor": "#ececec", "tickSize": -3}},
    "y": {"field": "l", "type": "quantitative", "scale": {"domain": [0, 5], "nice": false},
          "axis": {"orient": "left", "values": [0.3333, 0.6667, 1, 1.3333, 1.6667, 2.3333, 2.6667, 3, 3.3333, 3.6667, 4.3333, 4.6667], "labels": false, "title": null, "gridColor": "#ececec", "tickSize": -3}},
    "y2": {"field": "h"},
    "fill": {"field": "s", "type": "nominal", "scale": {"domain": ["Low", "Medium", "High", "Unlimiting", "Limiting"], "range": ["#e41a1c", "#377eb8", "#4daf4a", "#984ea3", "#ff7f00"]},
             "legend": {"orient": "none", "legendX": -6, "legendY": 312, "direction": "horizontal", "title": null, "symbolType": "M-2,0H2V1H-2V-1H2V0Z", "symbolSize": 529, "symbolOffset": 10.5, "symbolOpacity": 1, "symbolStrokeWidth": 2, "symbolDash": [46, 1000], "labelOffset": 16.5, "columnPadding": 15, "padding": 8, "strokeColor": "#333", "labelFontSize": 25,
                        "encode": {"symbols": {"update": {"fillOpacity": {"value": 0.12}, "strokeOpacity": {"value": 1}, "stroke": {"scale": "fill", "field": "value"}}}}}}
   }},
  {"mark": {"type": "line", "strokeWidth": 1.6},
   "encoding": {
    "x": {"field": "x", "type": "quantitative", "axis": {"orient": "bottom", "values": [0, 10000, 20000], "format": "d", "title": "Births", "gridColor": "#bdbdbd", "tickSize": -5, "labelPadding": 6, "titlePadding": 14}},
    "y": {"field": "m", "type": "quantitative", "axis": {"orient": "left", "values": [0, 2, 4], "labels": false, "title": null, "gridColor": "#bdbdbd", "tickSize": -5}},
    "stroke": {"field": "s", "type": "nominal", "sort": ["Low", "Medium", "High", "Unlimiting", "Limiting"], "scale": {"range": ["#e41a1c", "#377eb8", "#4daf4a", "#984ea3", "#ff7f00"]}, "legend": null}
   }}
 ],
 "resolve": {"axis": {"x": "independent", "y": "independent"}}
}
]
}
